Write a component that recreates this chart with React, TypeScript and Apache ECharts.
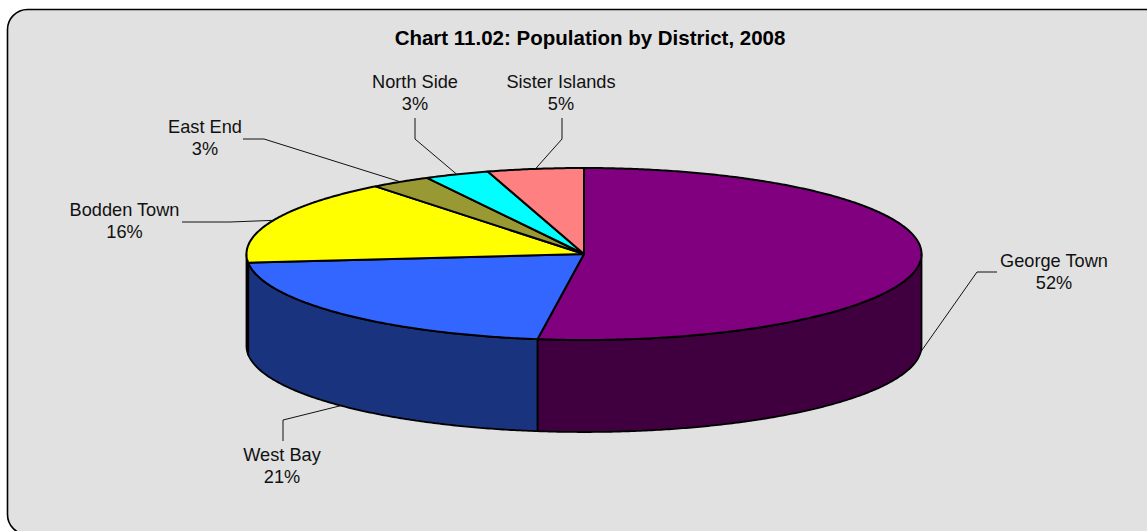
import React, { useEffect, useRef } from "react";
import * as echarts from "echarts";

const titleText = "Chart 11.02: Population by District, 2008";
const districts = ["George Town", "West Bay", "Bodden Town", "East End", "North Side", "Sister Islands"];
const shares = [52.2, 21.2, 16.0, 2.9, 3.1, 4.6];
const topColors = ["#800080", "#3366FF", "#FFFF00", "#999933", "#00FFFF", "#FF8080"];
const sideColors = ["#400040", "#19337F", "#7F7F00", "#4C4C19", "#007F7F", "#7F4040"];

// Layout of the tilted disc
const CX = 584;
const CY = 254;
const RX = 337.5;
const RY = 86;
const DEPTH = 92;

// Label centres and the leader elbows (from the label towards the slice)
const labelCenters = [[1054, 272], [282, 466], [124.5, 221], [205, 138], [415, 93], [561, 93]];
const leaderStubs = [
  [[997, 272], [977, 272]],
  [[283, 441], [283, 420]],
  [[182, 222], [230, 222]],
  [[243, 139], [264, 139]],
  [[415, 118], [415, 139]],
  [[562, 118], [562, 139]],
];

const total = shares.reduce((a, b) => a + b, 0);
const startAngle = (i: number) => (shares.slice(0, i).reduce((a, b) => a + b, 0) / total) * 360;
const endAngle = (i: number) => startAngle(i + 1);
const rimPoint = (deg: number, dy = 0) => {
  const t = (deg * Math.PI) / 180;
  return [CX + RX * Math.sin(t), CY - RY * Math.cos(t) + dy];
};
const arcPoints = (a: number, b: number, dy = 0) => {
  const n = Math.max(2, Math.ceil(Math.abs(b - a) * 2));
  const pts: number[][] = [];
  for (let k = 0; k <= n; k++) pts.push(rimPoint(a + ((b - a) * k) / n, dy));
  return pts;
};

const renderSide = (_p: any, api: any) => {
  const i = api.value(0);
  const a = Math.max(startAngle(i), 90);
  const b = Math.min(endAngle(i), 270);
  if (b <= a) return { type: "group", children: [] };
  return {
    type: "polygon",
    shape: { points: [...arcPoints(a, b), ...arcPoints(b, a, DEPTH)] },
    style: { fill: sideColors[i], stroke: "#000", lineWidth: 1.8, lineJoin: "round" },
  };
};

const renderTop = (_p: any, api: any) => {
  const i = api.value(0);
  return {
    type: "polygon",
    shape: { points: [[CX, CY], ...arcPoints(startAngle(i), endAngle(i))] },
    style: { fill: topColors[i], stroke: "#000", lineWidth: 2, lineJoin: "round" },
  };
};

const renderLabel = (_p: any, api: any) => {
  const i = api.value(0);
  const mid = (startAngle(i) + endAngle(i)) / 2;
  const onFront = mid > 90 && mid < 270;
  const anchorDy = onFront || i === 0 ? DEPTH : 0;
  const anchor = rimPoint(mid, anchorDy);
  const [cx, cy] = labelCenters[i];
  return {
    type: "group",
    children: [
      {
        type: "polyline",
        shape: { points: [...leaderStubs[i], anchor] },
        style: { fill: "none", stroke: "#111", lineWidth: 1 },
      },
      {
        type: "text",
        style: {
          x: cx,
          y: cy,
          text: `${districts[i]}\n${Math.round(shares[i])}%`,
          align: "center",
          verticalAlign: "middle",
          fontFamily: "'Liberation Sans', Arial, sans-serif",
          fontSize: 18.2,
          lineHeight: 22,
          fill: "#111",
        },
      },
    ],
  };
};

export default function App() {
  const ref = useRef<HTMLDivElement>(null);
  useEffect(() => {
    document.body.style.margin = "0";
    document.body.style.overflow = "hidden";
    const chart = echarts.init(ref.current!, null, { renderer: "svg" });
    const rows = districts.map((_, i) => [i]);
    chart.setOption({
      animation: false,
      backgroundColor: "#fff",
      title: {
        text: titleText,
        left: 585,
        top: 22,
        textAlign: "center",
        textStyle: {
          fontFamily: "'Liberation Sans', Arial, sans-serif",
          fontSize: 20.5,
          fontWeight: "bold",
          color: "#000",
        },
      },
      graphic: [
        {
          type: "rect",
          z: -1,
          shape: { x: 7.5, y: 9.5, width: 1158, height: 525, r: 20 },
          style: { fill: "#E1E1E1", stroke: "#000", lineWidth: 1.6 },
        },
      ],
      series: [
        { type: "custom", coordinateSystem: "none", data: rows, renderItem: renderSide, z: 2, silent: true },
        { type: "custom", coordinateSystem: "none", data: rows, renderItem: renderTop, z: 3, silent: true },
        { type: "custom", coordinateSystem: "none", data: rows, renderItem: renderLabel, z: 4, silent: true },
      ],
    });
    return () => chart.dispose();
  }, []);
  return <div ref={ref} style={{ width: 1147, height: 531 }} />;
}
